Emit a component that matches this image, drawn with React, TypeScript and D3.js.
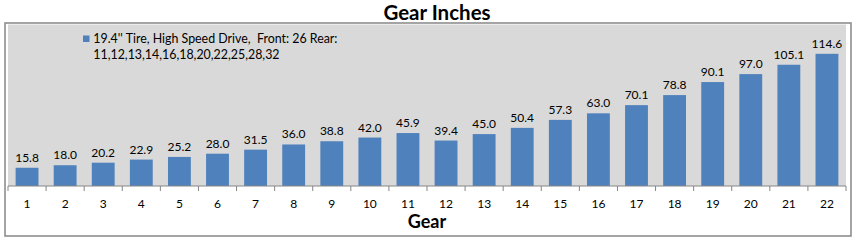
import React from "react";
import * as d3 from "d3";

const gears = ["1","2","3","4","5","6","7","8","9","10","11","12","13","14","15","16","17","18","19","20","21","22"];
const gearInches = [15.8,18.0,20.2,22.9,25.2,28.0,31.5,36.0,38.8,42.0,45.9,39.4,45.0,50.4,57.3,63.0,70.1,78.8,90.1,97.0,105.1,114.6];
const seriesName = "19.4'' Tire, High Speed Drive,  Front: 26 Rear:";
const seriesName2 = "11,12,13,14,16,18,20,22,25,28,32";
const title = "Gear Inches";
const xTitle = "Gear";
const yMax = 140;

const W = 858, H = 246;
const plot = { left: 8, right: 846, top: 24.5, bottom: 186 };
const FONT = "Lato, 'Open Sans', sans-serif";

export default function App() {
  const x = d3.scaleBand<string>().domain(gears).range([plot.left, plot.right]).paddingInner(0.4).paddingOuter(0.2);
  const y = d3.scaleLinear().domain([0, yMax]).range([plot.bottom, plot.top]);
  const bw = x.bandwidth();
  const bounds = d3.range(gears.length + 1).map(i => plot.left + i * (plot.right - plot.left) / gears.length);
  return (
    <svg width={W} height={H} style={{ position: "absolute", left: 0, top: 0, background: "#fff" }}>
      <rect x={5} y={23} width={846} height={213} fill="#fff" stroke="#868686" strokeWidth={1.5} />
      <rect x={plot.left} y={plot.top} width={plot.right - plot.left} height={plot.bottom - plot.top} fill="#d9d9d9" />
      <text x={437} y={19.5} textAnchor="middle" fontFamily={FONT} fontWeight="bold" fontSize={20.5} fill="#000">{title}</text>
      {gears.map((g, i) => (
        <rect key={g} x={x(g)} y={y(gearInches[i])} width={bw} height={plot.bottom - y(gearInches[i])} fill="#4f81bd" />
      ))}
      {gears.map((g, i) => (
        <text key={"l" + g} x={(x(g) as number) + bw / 2} y={y(gearInches[i]) - 6} textAnchor="middle" fontFamily={FONT} fontSize={12} fill="#000">{gearInches[i].toFixed(1)}</text>
      ))}
      <line x1={plot.left} x2={plot.right} y1={plot.bottom} y2={plot.bottom} stroke="#868686" strokeWidth={1} />
      {bounds.map((b, i) => (
        <line key={"t" + i} x1={b} x2={b} y1={plot.bottom} y2={plot.bottom + 5} stroke="#868686" strokeWidth={1} />
      ))}
      {gears.map(g => (
        <text key={"x" + g} x={(x(g) as number) + bw / 2} y={207.5} textAnchor="middle" fontFamily={FONT} fontSize={12} fill="#000">{g}</text>
      ))}
      <text x={427} y={228} textAnchor="middle" fontFamily={FONT} fontWeight="bold" fontSize={18} fill="#000">{xTitle}</text>
      <rect x={83} y={35.5} width={6.5} height={6.5} fill="#4f81bd" />
      <text x={93.3} y={43.3} fontFamily={FONT} fontSize={12.4} fill="#000" style={{ whiteSpace: "pre" }}>{seriesName}</text>
      <text x={93.3} y={59} fontFamily={FONT} fontSize={12.4} fill="#000">{seriesName2}</text>
    </svg>
  );
}
